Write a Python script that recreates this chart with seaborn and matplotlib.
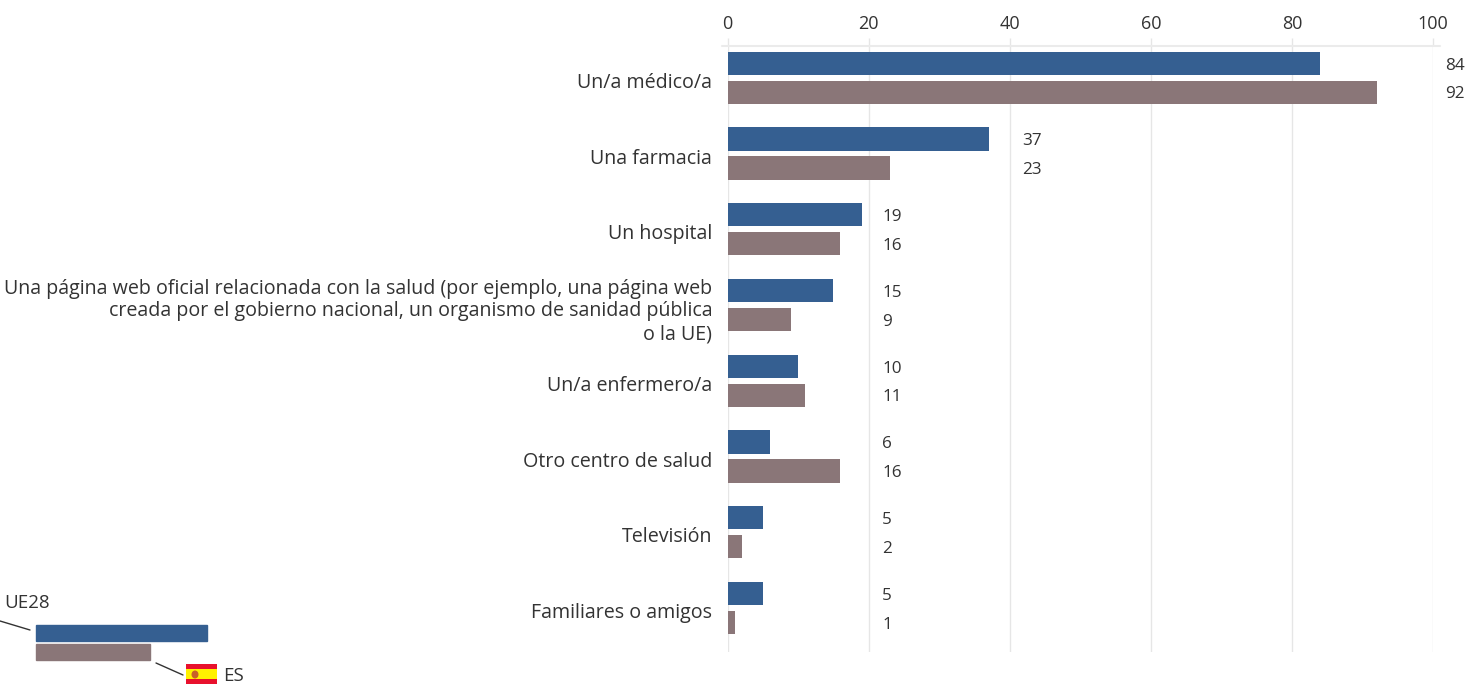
import matplotlib
matplotlib.use("Agg")
import matplotlib.pyplot as plt
from matplotlib.patches import Rectangle, Ellipse
from matplotlib.transforms import ScaledTranslation
import pandas as pd
import seaborn as sns

categories = [
    "Un/a médico/a",
    "Una farmacia",
    "Un hospital",
    "Una página web oficial relacionada con la salud (por ejemplo, una página web\n"
    "creada por el gobierno nacional, un organismo de sanidad pública\n"
    "o la UE)",
    "Un/a enfermero/a",
    "Otro centro de salud",
    "Televisión",
    "Familiares o amigos",
]
ue28 = [84, 37, 19, 15, 10, 6, 5, 5]
es = [92, 23, 16, 9, 11, 16, 2, 1]

BLUE = "#355F91"
BROWN = "#8A7678"
GRID = "#E6E6E6"
TEXT = "#333333"
W, H = 1480, 684

sns.set_theme(style="white")
plt.rcParams["font.family"] = ["Open Sans", "DejaVu Sans"]

df = pd.DataFrame({"cat": categories, "UE28": ue28, "ES": es})
df = df.melt(id_vars="cat", var_name="serie", value_name="valor")

fig = plt.figure(figsize=(W / 100, H / 100), dpi=100)
ax = fig.add_axes([727.5 / W, 1 - 652 / H, 705.5 / W, 606 / H])
sns.barplot(data=df, y="cat", x="valor", hue="serie", order=categories,
            hue_order=["UE28", "ES"], palette=[BLUE, BROWN], width=0.766,
            gap=0.2, saturation=1, linewidth=0, legend=False, zorder=3, ax=ax)

ax.set_xlim(0, 100)
ax.set_ylim(7.58, -0.42)
ax.set_xlabel("")
ax.set_ylabel("")
ax.xaxis.tick_top()
ax.set_xticks(range(0, 101, 20))
ax.tick_params(axis="x", length=5.5, width=1, color=GRID, pad=4, labelsize=13, labelcolor=TEXT)
ax.tick_params(axis="y", length=0, pad=11, labelsize=14.1, labelcolor=TEXT)
# bajar un poco las etiquetas
shift = ScaledTranslation(0, -2.5 / 100, fig.dpi_scale_trans)
for lab in ax.get_yticklabels():
    lab.set_linespacing(1.18)
    lab.set_transform(lab.get_transform() + shift)
ax.grid(axis="x", color=GRID, lw=1, zorder=0)
for s in ["right", "left", "bottom", "top"]:
    ax.spines[s].set_visible(False)
# linea superior, sobresale un poco del eje
ax.plot([-0.8, 101], [-0.42, -0.42], color="#EBEBEB", lw=1.5, clip_on=False, zorder=2)

# etiquetas de valor: columna segun el mayor del grupo
for i, (a, b) in enumerate(zip(ue28, es)):
    m = max(a, b)
    lx = 101.7 if m > 40 else (41.8 if m > 20 else 21.9)
    for v, off in [(a, -0.19), (b, 0.19)]:
        ax.annotate(str(v), (lx, i + off), xytext=(0, -1.5), textcoords="offset points",
                    va="center", ha="left", fontsize=12.3, color=TEXT, annotation_clip=False)

# leyenda dibujada a mano, en pixeles
lg = fig.add_axes([0, 0, 1, 1], facecolor="none")
lg.set_xlim(0, W)
lg.set_ylim(H, 0)
lg.axis("off")
lg.add_patch(Rectangle((36, 625), 171, 16, color=BLUE))
lg.add_patch(Rectangle((36, 644), 114, 16, color=BROWN))
lg.plot([0, 30], [621, 630], color="#333333", lw=1)
lg.plot([156, 183], [663, 675], color="#333333", lw=1)
lg.text(4, 603, "UE28", fontsize=13.5, color=TEXT, va="center", ha="left")
lg.text(223, 676, "ES", fontsize=13.5, color=TEXT, va="center", ha="left")
lg.add_patch(Rectangle((186, 664), 31, 20, color="#E8112D", lw=0))
lg.add_patch(Rectangle((186, 669), 31, 10, color="#FFF200", lw=0))
lg.add_patch(Ellipse((195, 674.5), 7, 8, color="#C8602A", lw=0))

fig.savefig("out.png", dpi=100)
